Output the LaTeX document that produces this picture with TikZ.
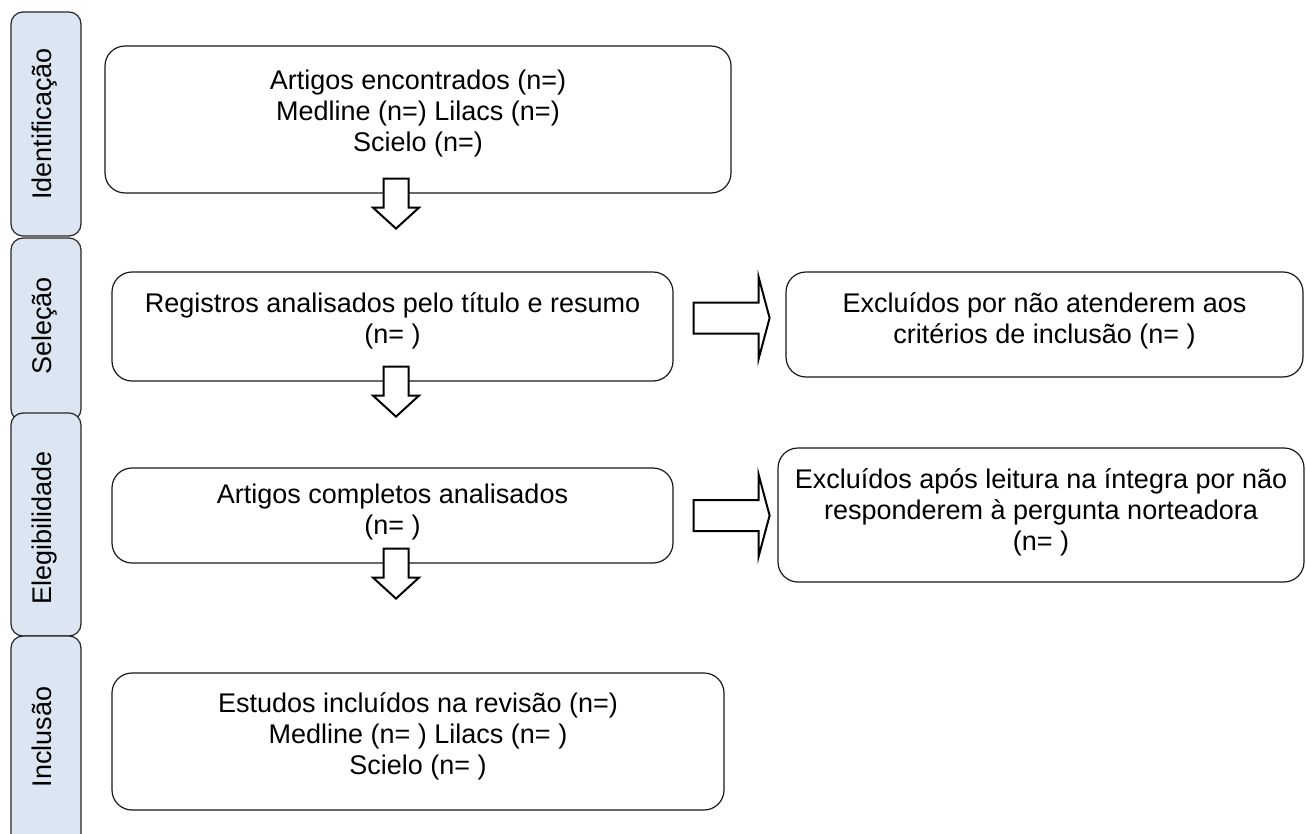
\documentclass[tikz,border=0pt]{standalone}
\usepackage{fontspec}
\setmainfont{Liberation Sans}
\definecolor{phasefill}{RGB}{220,230,242}
\begin{document}
\begin{tikzpicture}[x=1pt,y=-1pt,
  phase/.style={draw=black!85, fill=phasefill, line width=1.2pt, rounded corners=12pt},
  box/.style={draw=black!90, line width=1.2pt, rounded corners=20pt, fill=white, inner sep=0pt},
  txt/.style={align=center, font=\fontsize{27}{31}\selectfont, inner sep=0pt},
  blockarrow/.style={draw=black, fill=white, line width=2pt, line join=miter},
  pics/downarrow/.style={code={
    \draw[blockarrow] (-12.5,-15) -- (12.5,-15) -- (12.5,14) -- (23,14) -- (0,35)
      -- (-23,14) -- (-12.5,14) -- cycle;}},
  pics/rightarrow/.style={code={
    \draw[blockarrow] (0,-15.5) -- (65,-15.5) -- (65,-41) -- (76,0) -- (65,41)
      -- (65,15.5) -- (0,15.5) -- cycle;}}]
\useasboundingbox (0,0) rectangle (1306,834);

% phase bars
\draw[phase] (11,12) rectangle (81,236);
\node[txt, rotate=90, anchor=base] (l1) at (51,124) {Identificação};
\draw[phase] (11,238) rectangle (81,421);
\node[txt, rotate=90, anchor=base] (l2) at (51,326) {Seleção};
\draw[phase] (11,413) rectangle (81,636);
\node[txt, rotate=90, anchor=base] (l3) at (51,528) {Elegibilidade};
\draw[phase] (11,636) rectangle (81,852);
\node[txt, rotate=90, anchor=base] (l4) at (51,737) {Inclusão};

% boxes
\node[box, minimum width=626pt, minimum height=147pt] (art) at (418,119.5) {};
\node[txt] (artT) at (418,114) {Artigos encontrados (n=)\\Medline (n=) Lilacs (n=)\\Scielo (n=)};

\node[box, minimum width=561pt, minimum height=109pt] (reg) at (392.5,326.5) {};
\node[txt] (regT) at (392.5,320.5) {Registros analisados pelo título e resumo\\(n= )};

\node[box, minimum width=517pt, minimum height=105pt] (exc1) at (1044.5,324.5) {};
\node[txt] (exc1T) at (1044.5,320.5) {Excluídos por não atenderem aos\\critérios de inclusão (n= )};

\node[box, minimum width=561pt, minimum height=95pt] (comp) at (392.5,515.5) {};
\node[txt] (compT) at (392.5,512) {Artigos completos analisados\\(n= )};

\node[box, minimum width=526pt, minimum height=134pt] (exc2) at (1041,515) {};
\node[txt] (exc2T) at (1041,512) {Excluídos após leitura na íntegra por não\\responderem à pergunta norteadora\\(n= )};

\node[box, minimum width=612pt, minimum height=137pt] (inc) at (418,741.5) {};
\node[txt] (incT) at (418,736) {Estudos incluídos na revisão (n=)\\Medline (n= ) Lilacs (n= )\\Scielo (n= )};

% block arrows
\pic at ([xshift=-22pt]art.south) {downarrow};
\pic at ([xshift=3.5pt]reg.south) {downarrow};
\pic at ([xshift=3.5pt]comp.south) {downarrow};
\pic at ([xshift=20pt,yshift=8.5pt]reg.east) {rightarrow};
\pic at ([xshift=20pt]comp.east) {rightarrow};
\end{tikzpicture}
\end{document}
